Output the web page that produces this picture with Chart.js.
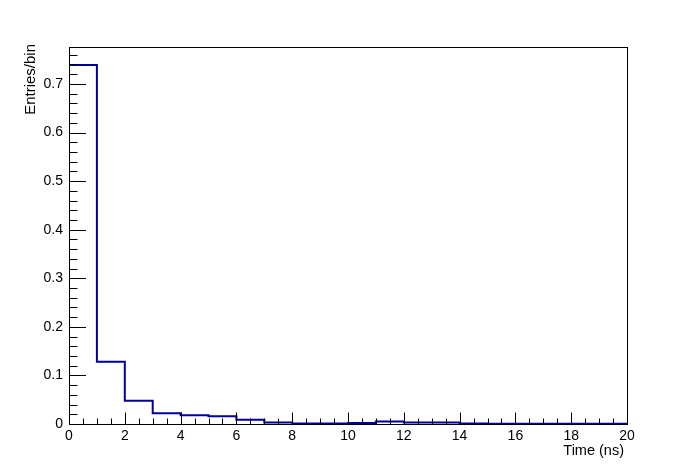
<!DOCTYPE html>
<html>
<head>
<meta charset="utf-8">
<script src="https://cdn.jsdelivr.net/npm/chart.js@4.4.1/dist/chart.umd.min.js"></script>
<style>
  html, body { margin: 0; padding: 0; background: #fff; }
  #wrap { width: 696px; height: 472px; }
</style>
</head>
<body>
<div id="wrap"><canvas id="c" width="696" height="472"></canvas></div>
<script>
// histogram bins: lower edges (ns) and contents (entries/bin)
const binEdges = [0, 1, 2, 3, 4, 5, 6, 7, 8, 9, 10, 11, 12, 13, 14, 15, 16, 17, 18, 19, 20];
const binValues = [0.739, 0.128, 0.048, 0.022, 0.018, 0.016, 0.009, 0.003, 0.001, 0.001,
                   0.002, 0.005, 0.003, 0.003, 0.001, 0.0005, 0.0005, 0.0005, 0.0005, 0.0005];
const xRange = [0, 20];
const yRange = [0, 0.776];
const xTitle = "Time (ns)";
const yTitle = "Entries/bin";

const FONT = "'Liberation Sans', Arial, Helvetica, sans-serif";
const LINE = "#000099";

// step outline: one point per bin edge, last edge repeats the last content.
// 'before' in chart.js = run horizontal at the previous level, then drop at the next edge
const points = binEdges.map((x, i) => ({ x: x, y: binValues[Math.min(i, binValues.length - 1)] }));

// ROOT style frame + inward tick marks
const rootFrame = {
  id: "rootFrame",
  afterDraw(chart) {
    const { ctx, chartArea: a, scales } = chart;
    const xs = scales.x, ys = scales.y;
    ctx.save();
    ctx.strokeStyle = "#000";
    ctx.lineWidth = 1;
    ctx.beginPath();
    // y ticks every 0.02, major every 0.1
    for (let k = 0; k * 0.02 <= yRange[1] + 1e-9; k++) {
      const py = Math.round(ys.getPixelForValue(k * 0.02)) + 0.5;
      const len = (k % 5 === 0) ? 17 : 8.5;
      ctx.moveTo(a.left, py);
      ctx.lineTo(a.left + len, py);
    }
    // x ticks every 0.5, major every 2
    for (let k = 0; k * 0.5 <= xRange[1] + 1e-9; k++) {
      const px = Math.round(xs.getPixelForValue(k * 0.5)) + 0.5;
      const len = (k % 4 === 0) ? 11.5 : 5.5;
      ctx.moveTo(px, a.bottom);
      ctx.lineTo(px, a.bottom - len);
    }
    ctx.stroke();
    ctx.strokeRect(Math.round(a.left) + 0.5, Math.round(a.top) + 0.5,
                   Math.round(a.right - a.left), Math.round(a.bottom - a.top));

    // axis titles, ROOT puts them at the far end of each axis
    ctx.fillStyle = "#000";
    ctx.textAlign = "right";
    ctx.textBaseline = "middle";
    ctx.font = "14.5px " + FONT;
    ctx.fillText(xTitle, a.right - 3, 451);
    ctx.font = "15px " + FONT;
    ctx.translate(31, 44);
    ctx.rotate(-Math.PI / 2);
    ctx.fillText(yTitle, 0, 0);
    ctx.restore();
  }
};

new Chart(document.getElementById("c"), {
  type: "line",
  data: {
    datasets: [{
      data: points,
      stepped: "before",
      borderColor: LINE,
      borderWidth: 2,
      pointRadius: 0,
      fill: false,
      tension: 0
    }]
  },
  options: {
    animation: false,
    responsive: false,
    maintainAspectRatio: false,
    layout: { padding: { top: 47, right: 69, left: 0, bottom: 0 } },
    scales: {
      x: {
        type: "linear",
        min: xRange[0],
        max: xRange[1],
        grid: { display: false, drawTicks: false },
        border: { display: false },
        ticks: {
          stepSize: 2,
          autoSkip: false,
          maxRotation: 0,
          padding: 4,
          color: "#000",
          font: { family: FONT, size: 14 }
        },
        afterFit(s) { s.height = 48; }
      },
      y: {
        type: "linear",
        min: yRange[0],
        max: yRange[1],
        grid: { display: false, drawTicks: false },
        border: { display: false },
        ticks: {
          stepSize: 0.1,
          includeBounds: false,
          autoSkip: false,
          padding: 6,
          color: "#000",
          font: { family: FONT, size: 14 },
          callback: v => String(+v.toFixed(1))
        },
        afterFit(s) { s.width = 69; }
      }
    },
    plugins: {
      legend: { display: false },
      tooltip: { enabled: false }
    }
  },
  plugins: [rootFrame]
});
</script>
</body>
</html>
